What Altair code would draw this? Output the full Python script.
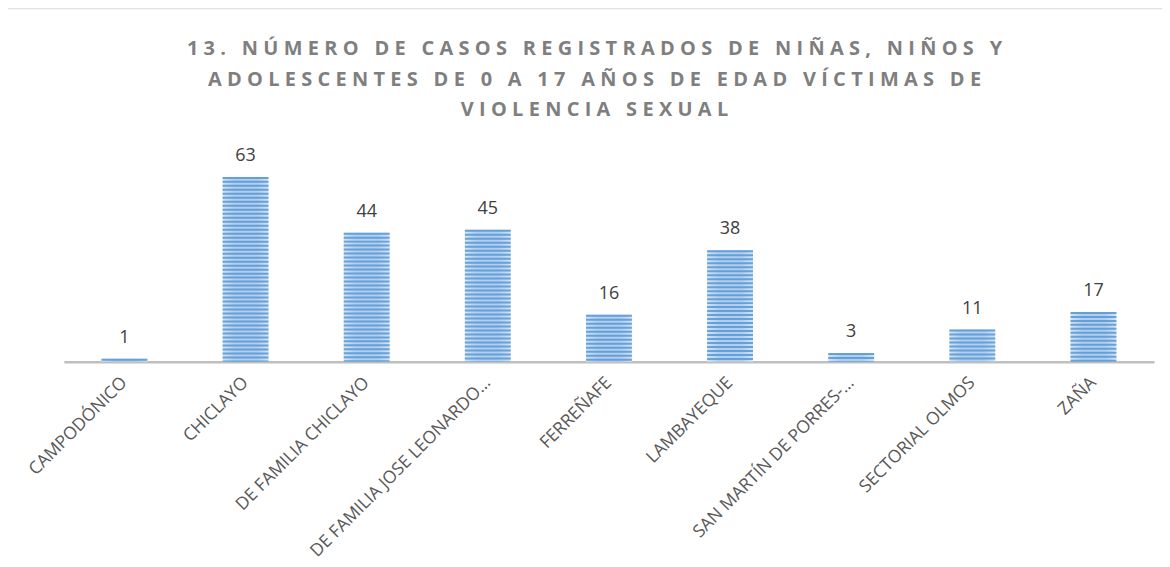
import altair as alt
import pandas as pd

categories = ["CAMPODÓNICO", "CHICLAYO", "DE FAMILIA CHICLAYO",
              "DE FAMILIA JOSE LEONARDO…", "FERREÑAFE", "LAMBAYEQUE",
              "SAN MARTÍN DE PORRES-…", "SECTORIAL OLMOS", "ZAÑA"]
values = [1, 63, 44, 45, 16, 38, 3, 11, 17]
title_lines = ["13. NÚMERO DE CASOS REGISTRADOS DE NIÑAS, NIÑOS Y",
               "ADOLESCENTES DE 0 A 17 AÑOS DE EDAD VÍCTIMAS DE",
               "VIOLENCIA SEXUAL"]

df = pd.DataFrame({"cat": categories, "val": values})
spaced_title = ["\u2009\u200a".join(line) for line in title_lines]
title_df = pd.DataFrame({"k": [0]})

W, H = 1093, 206
xenc = alt.X("cat:N", sort=categories,
             scale=alt.Scale(paddingInner=0, paddingOuter=0),
             axis=alt.Axis(title=None, labelAngle=-45, labelAlign="right",
                           labelBaseline="middle", labelFontSize=17.5,
                           labelColor="#595959", labelFont="Open Sans",
                           labelPadding=18, ticks=False, domainColor="#bfbfbf",
                           domainWidth=2.5, labelLimit=400))
yscale = alt.Scale(domain=[0, 70])
yenc = alt.Y("val:Q", scale=yscale, axis=None)

base = alt.Chart(df)

bars = base.mark_bar(size=46, fill={
    "gradient": "linear", "x1": 0, "x2": 1, "y1": 0, "y2": 0,
    "stops": [{"offset": 0, "color": "#d3e3f5"},
              {"offset": 0.25, "color": "#b3cdee"},
              {"offset": 0.75, "color": "#b3cdee"},
              {"offset": 1, "color": "#d3e3f5"}]}).encode(x=xenc, y=yenc)

stripes = base.mark_rule(strokeWidth=46, color="#5b9bd5",
                         strokeDash=[2, 2], opacity=0.9).encode(
    x=xenc, y=yenc, y2=alt.datum(0))

labels = base.mark_text(dy=-16, fontSize=18, color="#404040",
                        font="Open Sans", baseline="alphabetic").encode(
    x=xenc, y=yenc, text="val:Q")

title_marks = alt.Chart(title_df).mark_text(
    fontSize=20, font="Open Sans", fontWeight="bold", color="#7f7f7f",
    baseline="alphabetic", align="center", lineHeight=31,
    text=spaced_title).encode(x=alt.value(532), y=alt.value(-102))

frame = alt.Chart(title_df).mark_rect(fill=None, stroke="#d9d9d9",
                                      strokeWidth=1, clip=False).encode(
    x=alt.value(-57), x2=alt.value(1103), y=alt.value(-148), y2=alt.value(420))

chart = alt.layer(frame, bars, stripes, labels, title_marks).properties(
    width=W, height=H,
    padding={"left": 56, "top": 148, "right": 8, "bottom": 200},
    autosize="none",
).configure_view(stroke=None)

chart.save("out.html", embed_options={"renderer": "svg", "actions": False})
